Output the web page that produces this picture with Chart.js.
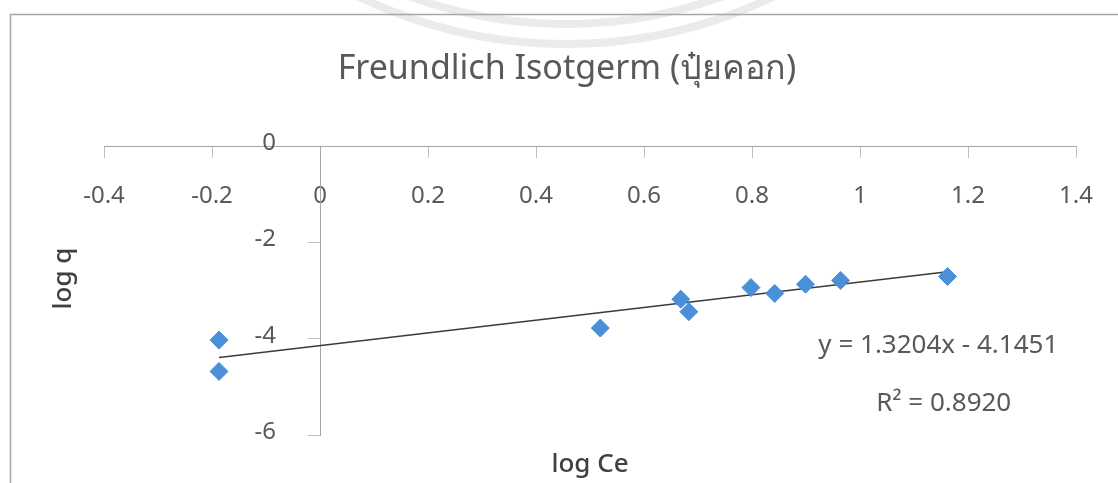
<!DOCTYPE html>
<html>
<head>
<meta charset="utf-8">
<script src="https://cdn.jsdelivr.net/npm/chart.js@4"></script>
<style>
  html, body { margin: 0; padding: 0; background: #fff; }
  #wrap { width: 1118px; height: 483px; }
</style>
</head>
<body>
<div id="wrap"><canvas id="freundlich"></canvas></div>
<script>
// data
const logCe = [-0.187, -0.187, 0.519, 0.668, 0.683, 0.798, 0.842, 0.899, 0.964, 1.162];
const logQ  = [-4.03, -4.68, -3.78, -3.18, -3.44, -2.94, -3.06, -2.87, -2.79, -2.71];
const xTicks = [-0.4, -0.2, 0, 0.2, 0.4, 0.6, 0.8, 1, 1.2, 1.4];
const yTicks = [0, -2, -4, -6];
const slope = 1.3204;
const intercept = -4.1451;
const titleText = 'Freundlich Isotgerm (ปุ๋ยคอก)';
const equationText = 'y = 1.3204x - 4.1451';
const r2Text = 'R² = 0.8920';

document.addEventListener('DOMContentLoaded', function() {
    const ctx = document.getElementById('freundlich');
    const font = "'Noto Sans', 'DejaVu Sans', sans-serif";

    const points = logCe.map((x, i) => ({ x: x, y: logQ[i] }));
    const xMin = Math.min(...logCe), xMax = Math.max(...logCe);
    const trend = [
        { x: xMin, y: slope * xMin + intercept },
        { x: xMax, y: slope * xMax + intercept }
    ];

    // faint watermark ring from the scan, behind everything
    const backdrop = {
        id: 'backdrop',
        beforeDraw(chart) {
            const c = chart.ctx;
            c.save();
            c.strokeStyle = 'rgba(205,205,205,0.4)';
            c.lineWidth = 8;
            [458, 478].forEach(r => {
                c.beginPath();
                c.arc(566, -434, r, 0, Math.PI);
                c.stroke();
            });
            c.restore();
        }
    };

    // outer frame, title, y tick labels, axis titles and trendline label
    const extras = {
        id: 'extras',
        afterDraw(chart) {
            const c = chart.ctx;
            const xs = chart.scales.x, ys = chart.scales.y;
            c.save();
            c.strokeStyle = '#a6a6a6';
            c.lineWidth = 1.5;
            c.beginPath();
            c.moveTo(10.5, 483);
            c.lineTo(10.5, 14.5);
            c.lineTo(1118, 14.5);
            c.stroke();

            c.fillStyle = '#595959';
            c.textBaseline = 'middle';
            c.textAlign = 'center';
            c.font = '34px ' + font;
            c.fillText(titleText, 567, 69);

            // y tick labels sit well left of the crossing axis
            c.font = '24px ' + font;
            c.textAlign = 'right';
            const yAxisPx = xs.getPixelForValue(0);
            ys.ticks.forEach(t => {
                c.fillText(String(t.value), yAxisPx - 44, ys.getPixelForValue(t.value) - 3);
            });

            c.fillStyle = '#404040';
            c.font = '500 26px ' + font;
            c.textAlign = 'center';
            c.fillText('log Ce', xs.getPixelForValue(0.5), 465);
            c.save();
            c.translate(64, ys.getPixelForValue(-2.75));
            c.rotate(-Math.PI / 2);
            c.fillText('log q', 0, 0);
            c.restore();

            c.fillStyle = '#595959';
            c.font = '26px ' + font;
            c.fillText(equationText, xs.getPixelForValue(1.145), ys.getPixelForValue(-4.15));
            c.fillText(r2Text, xs.getPixelForValue(1.155), ys.getPixelForValue(-5.35));
            c.restore();
        }
    };

    new Chart(ctx, {
        type: 'scatter',
        data: {
            datasets: [{
                label: 'log q',
                data: points,
                pointStyle: 'rectRot',
                pointRadius: 9,
                pointHoverRadius: 9,
                backgroundColor: '#4a90d9',
                borderColor: '#4a90d9',
                borderWidth: 1,
                order: 1
            }, {
                label: 'Linear',
                type: 'line',
                data: trend,
                borderColor: '#3a3a3a',
                borderWidth: 1.5,
                pointRadius: 0,
                fill: false,
                order: 2
            }]
        },
        options: {
            responsive: true,
            maintainAspectRatio: false,
            animation: false,
            layout: { padding: { left: 104, right: 40, top: 146, bottom: 48 } },
            plugins: {
                legend: { display: false },
                tooltip: { enabled: false },
                title: { display: false }
            },
            scales: {
                x: {
                    type: 'linear',
                    position: { y: 0 },
                    min: -0.4,
                    max: 1.4,
                    afterBuildTicks: (s) => { s.ticks = xTicks.map(v => ({ value: v })); },
                    grid: { drawOnChartArea: false, color: '#bfbfbf', tickLength: 11 },
                    border: { color: '#a6a6a6', width: 1 },
                    ticks: {
                        padding: 25,
                        color: '#595959',
                        font: { family: font, size: 24 },
                        maxRotation: 0,
                        autoSkip: false,
                        callback: (v) => String(v)
                    }
                },
                y: {
                    type: 'linear',
                    position: { x: 0 },
                    min: -6,
                    max: 0,
                    afterBuildTicks: (s) => { s.ticks = yTicks.map(v => ({ value: v })); },
                    grid: { drawOnChartArea: false, color: '#bfbfbf', tickLength: 12 },
                    border: { color: '#a6a6a6', width: 1 },
                    ticks: {
                        color: 'rgba(0,0,0,0)',
                        font: { family: font, size: 24 }
                    }
                }
            }
        },
        plugins: [backdrop, extras]
    });
});
</script>
</body>
</html>
